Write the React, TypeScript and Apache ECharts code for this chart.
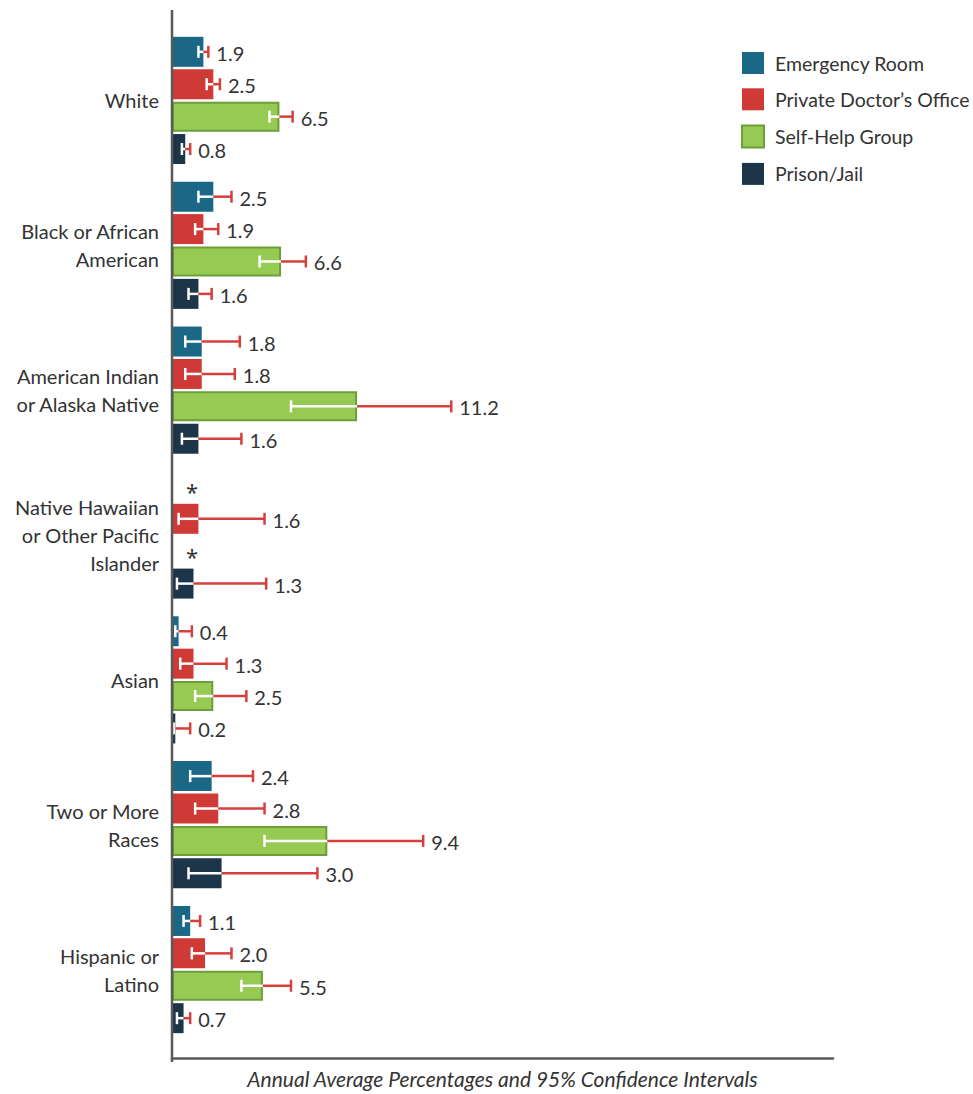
import React, { useEffect, useRef } from "react";
import * as echarts from "echarts";

const categories = [
  "White",
  "Black or African\nAmerican",
  "American Indian\nor Alaska Native",
  "Native Hawaiian\nor Other Pacific\nIslander",
  "Asian",
  "Two or More\nRaces",
  "Hispanic or\nLatino",
];

const seriesNames = ["Emergency Room", "Private Doctor\u2019s Office", "Self-Help Group", "Prison/Jail"];

// null = suppressed estimate (shown as *)
const erValues = [1.9, 2.5, 1.8, null, 0.4, 2.4, 1.1];
const erLow = [1.6, 1.6, 0.8, null, 0.2, 1.1, 0.7];
const erHigh = [2.2, 3.6, 4.1, null, 1.2, 4.9, 1.7];

const pdoValues = [2.5, 1.9, 1.8, 1.6, 1.3, 2.8, 2.0];
const pdoLow = [2.1, 1.4, 0.8, 0.4, 0.5, 1.4, 1.2];
const pdoHigh = [2.9, 2.8, 3.8, 5.6, 3.3, 5.6, 3.6];

const shgValues = [6.5, 6.6, 11.2, null, 2.5, 9.4, 5.5];
const shgLow = [5.9, 5.3, 7.2, null, 1.4, 5.6, 4.2];
const shgHigh = [7.3, 8.1, 16.9, null, 4.5, 15.2, 7.2];

const pjValues = [0.8, 1.6, 1.6, 1.3, 0.2, 3.0, 0.7];
const pjLow = [0.6, 1.0, 0.6, 0.3, 0.1, 1.0, 0.3];
const pjHigh = [1.1, 2.4, 4.2, 5.7, 1.1, 8.8, 1.1];

const allValues = [erValues, pdoValues, shgValues, pjValues];
const allLow = [erLow, pdoLow, shgLow, pjLow];
const allHigh = [erHigh, pdoHigh, shgHigh, pjHigh];

const colors = ["#1b6886", "#d03a36", "#97ca52", "#1d3549"];
const FONT = "Lato, 'Noto Sans', sans-serif";
const BAR_W = 30;
const BAR_GAP = 2.4;

export default function App() {
  const ref = useRef<HTMLDivElement>(null);
  useEffect(() => {
    document.body.style.margin = "0";
    const chart = echarts.init(ref.current!, null, { renderer: "svg" });
    const slot = BAR_W + BAR_GAP;
    const total = 4 * BAR_W + 3 * BAR_GAP;

    const barSeries = seriesNames.map((name, i) => ({
      name,
      type: "bar",
      barWidth: BAR_W,
      barGap: "8%",
      data: allValues[i].map((v) => (v == null ? "-" : v)),
      itemStyle:
        i === 2
          ? { color: colors[i], borderColor: "#6c9f3a", borderWidth: 2 }
          : { color: colors[i] },
      silent: true,
    }));

    const errSeries = seriesNames.map((name, i) => ({
      name: "err" + i,
      type: "custom",
      silent: true,
      z: 10,
      encode: { x: 0, y: 1 },
      data: allValues[i].map((v, c) => [
        v == null ? 0 : v,
        c,
        allLow[i][c] == null ? 0 : allLow[i][c],
        allHigh[i][c] == null ? 0 : allHigh[i][c],
        v == null ? 1 : 0,
      ]),
      renderItem: (params: any, api: any) => {
        const v = api.value(0);
        const cat = api.value(1);
        const lo = api.value(2);
        const hi = api.value(3);
        const missing = api.value(4);
        const base = api.coord([0, cat]);
        const y = base[1] - total / 2 + i * slot + BAR_W / 2;
        if (missing) {
          return {
            type: "text",
            x: base[0] + 20,
            y: y + 5,
            style: { text: "*", fill: "#333", font: `22px 'Noto Sans', sans-serif`, align: "center", verticalAlign: "middle" },
          };
        }
        const xv = api.coord([v, cat])[0];
        const xl = api.coord([lo, cat])[0];
        const xh = api.coord([hi, cat])[0];
        const cap = 6;
        return {
          type: "group",
          children: [
            { type: "line", shape: { x1: xl, y1: y, x2: xv, y2: y }, style: { stroke: "#ffffff", lineWidth: 2.5 } },
            { type: "line", shape: { x1: xl, y1: y - cap, x2: xl, y2: y + cap }, style: { stroke: "#ffffff", lineWidth: 2.5 } },
            { type: "line", shape: { x1: xv, y1: y, x2: xh, y2: y }, style: { stroke: "#d63f3c", lineWidth: 2.5 } },
            { type: "line", shape: { x1: xh, y1: y - cap, x2: xh, y2: y + cap }, style: { stroke: "#d63f3c", lineWidth: 2.5 } },
            {
              type: "text",
              x: xh + 8,
              y: y + 1,
              style: { text: v.toFixed(1), fill: "#333", font: `20px ${FONT}`, align: "left", verticalAlign: "middle" },
            },
          ],
        };
      },
    }));

    chart.setOption({
      animation: false,
      grid: { left: 172, right: 140, top: 28, bottom: 49 },
      legend: {
        data: seriesNames,
        orient: "vertical",
        left: 741,
        top: 52,
        padding: 0,
        itemWidth: 22,
        itemHeight: 22,
        itemGap: 14.3,
        icon: "rect",
        selectedMode: false,
        textStyle: { fontFamily: FONT, fontSize: 19.5, color: "#333", padding: [0, 0, 0, 6] },
      },
      xAxis: {
        type: "value",
        min: 0,
        max: 40,
        offset: 16,
        axisLine: { show: true, lineStyle: { color: "#5a5a5a", width: 2.5 } },
        axisTick: { show: false },
        axisLabel: { show: false },
        splitLine: { show: false },
        name: "Annual Average Percentages and 95% Confidence Intervals",
        nameLocation: "middle",
        nameGap: 10,
        nameTextStyle: { fontFamily: FONT, fontSize: 21, fontStyle: "italic", color: "#333", verticalAlign: "top" },
      },
      yAxis: {
        type: "category",
        data: categories,
        inverse: true,
        axisLine: { show: false },
        axisTick: { show: false },
        axisLabel: { margin: 13, fontFamily: FONT, fontSize: 20, lineHeight: 28, color: "#333", align: "right" },
      },
      graphic: [
        {
          type: "line",
          shape: { x1: 172, y1: 10, x2: 172, y2: 1062 },
          style: { stroke: "#5a5a5a", lineWidth: 2.5 },
          z: 100,
        },
      ],
      series: [...barSeries, ...errSeries],
    });
    return () => chart.dispose();
  }, []);
  return <div ref={ref} style={{ width: 973, height: 1094 }} />;
}
